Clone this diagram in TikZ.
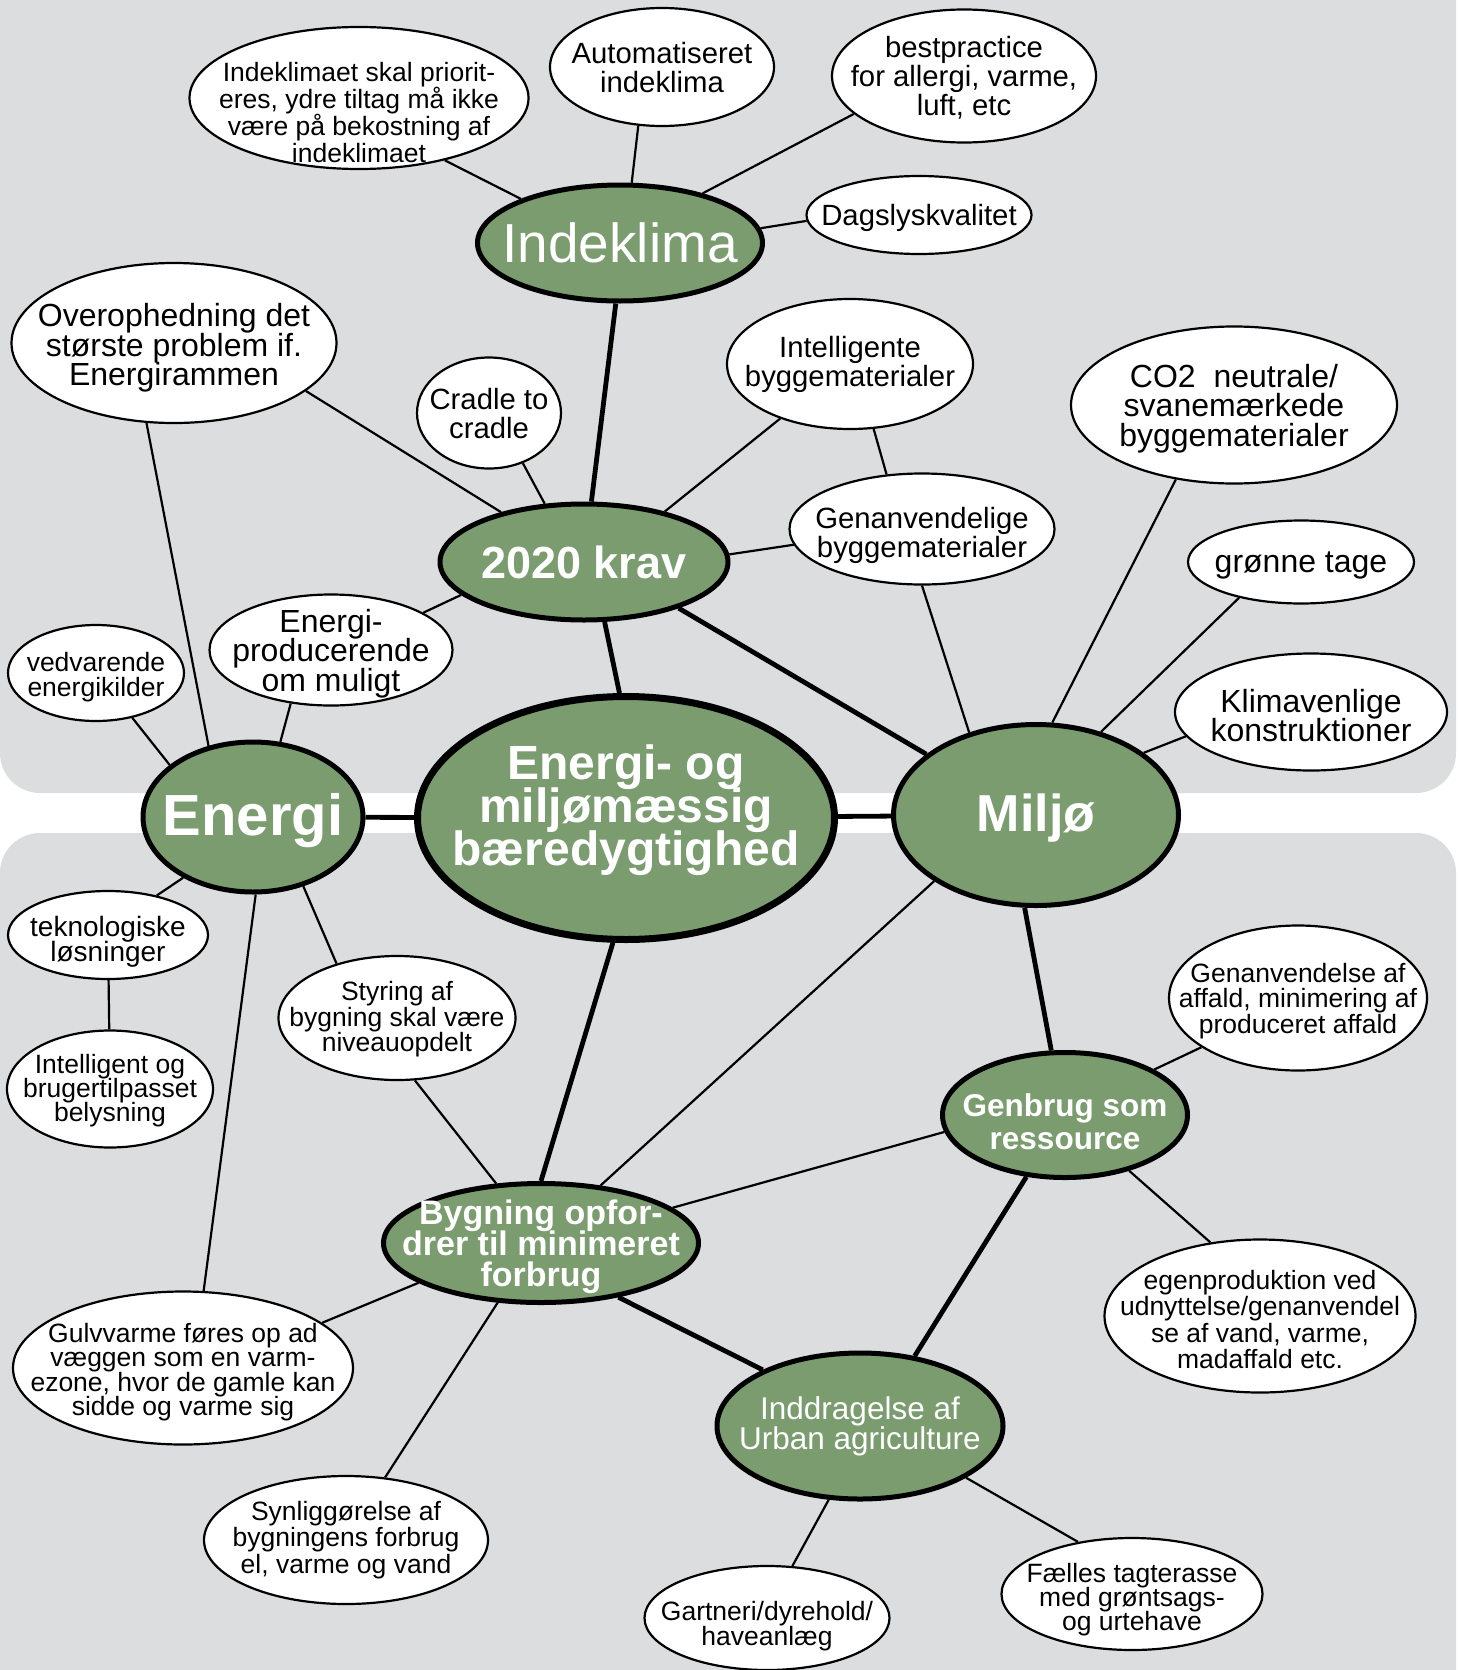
\documentclass[tikz,border=0pt]{standalone}
\usepackage{fontspec}
\setmainfont{Liberation Sans}
\usetikzlibrary{shapes,positioning}

\definecolor{panelgray}{HTML}{DCDDDF}
\definecolor{hubgreen}{HTML}{7A9C6F}
\newcommand{\tightlines}{\lineskiplimit=-100pt\relax}
\newcommand{\lift}[1]{\rule{0pt}{#1pt}}

\begin{document}
\tightlines
\begin{tikzpicture}[x=1pt, y=-1pt,
    leaf/.style={ellipse, draw, fill=white, line width=2.2pt, inner sep=-200pt, align=center},
    hub/.style={ellipse, draw, fill=hubgreen, line width=5pt, inner sep=-200pt, align=center, text=white},
    fS/.style={font=\fontsize{26.5}{#1}\selectfont},
    fS/.default=25.5,
    fM/.style={font=\fontsize{29.3}{#1}\selectfont},
    fM/.default=29,
    fL/.style={font=\fontsize{32}{29.5}\selectfont},
    twig/.style={line width=2.2pt},
    trunk/.style={line width=4.8pt}]
    \useasboundingbox (0,0) rectangle (1459,1670);
    % Panels
    \fill[white] (0,0) rectangle (1459,1670);
    \fill[panelgray, rounded corners=40] (0,-60) rectangle (1456,793);
    \fill[panelgray, rounded corners=40] (0,833) rectangle (1456,1730);

    % Hubs
    \node (ind) [hub, minimum width=285, minimum height=116, font=\fontsize{55}{55}\selectfont] at (620,243) {Indeklima};
    \node (krav) [hub, minimum width=288, minimum height=116, font=\fontsize{45}{45}\selectfont\bfseries] at (584,562) {2020 krav};
    \node (ene) [hub, minimum width=220, minimum height=150, text depth=5.6pt, font=\fontsize{58}{58}\selectfont\bfseries] at (253,817) {Energi};
    \node (mid) [hub, line width=7pt, minimum width=417, minimum height=243, text depth=25pt, font=\fontsize{48}{43}\selectfont\bfseries] at (626,818) {Energi- og\\miljømæssig\\bæredygtighed};
    \node (mil) [hub, minimum width=285, minimum height=181, text depth=4.6pt, font=\fontsize{52}{52}\selectfont\bfseries] at (1036,815) {Miljø};
    \node (gbr) [hub, minimum width=245, minimum height=125, text depth=0pt, font=\fontsize{31.5}{33}\selectfont\bfseries] at (1065,1115) {\lift{36}Genbrug som\\ressource};
    \node (byg) [hub, minimum width=315, minimum height=119, text depth=0pt, font=\fontsize{34}{31}\selectfont\bfseries] at (541,1243) {Bygning opfor-\\drer til minimeret\\forbrug};
    \node (urb) [hub, minimum width=286, minimum height=146, font=\fontsize{31.5}{30}\selectfont] at (860,1426) {Inddragelse af\\Urban agriculture};

    % Top panel
    \node (pri) [leaf, fS=27, minimum width=339, minimum height=142, text depth=0pt] at (359,98) {\lift{48}Indeklimaet skal priorit-\\eres, ydre tiltag må ikke\\være på bekostning af\\indeklimaet};
    \node (aut) [leaf, fM, minimum width=224, minimum height=118, text depth=0pt] at (662,67) {Automatiseret\\indeklima};
    \node (bes) [leaf, fM, minimum width=264, minimum height=133, text depth=0pt] at (964,76) {bestpractice\\for allergi, varme,\\luft, etc};
    \node (dag) [leaf, fM, minimum width=225, minimum height=78, text depth=0pt] at (919,215) {Dagslyskvalitet};
    \node (ove) [leaf, fL, minimum width=325, minimum height=160, text depth=0pt] at (174,343) {\lift{26.5}Overophedning det\\største problem if.\\Energirammen};
    \node (cra) [leaf, fM, minimum width=144, minimum height=111, text depth=0pt] at (489,413) {Cradle to\\cradle};
    \node (intm) [leaf, fM, minimum width=246, minimum height=130] at (850,364) {Intelligente\\byggematerialer};
    \node (co2) [leaf, fL, minimum width=326, minimum height=157, text depth=0pt] at (1234,405) {CO2~ neutrale/\\svanemærkede\\byggematerialer};
    \node (gen) [leaf, fM, minimum width=265, minimum height=111, text depth=0pt] at (922,529) {\lift{28}Genanvendelige\\byggematerialer};
    \node (gro) [leaf, fL, minimum width=226, minimum height=83, text depth=0pt] at (1301,562) {grønne tage};
    \node (epr) [leaf, fL, minimum width=243, minimum height=111, text depth=0pt] at (331,650) {Energi-\\producerende\\om muligt};
    \node (ved) [leaf, fS, minimum width=176, minimum height=96, text depth=0pt] at (96,673) {\lift{22}vedvarende\\energikilder};
    \node (kli) [leaf, fL, minimum width=272, minimum height=117, text depth=0pt] at (1311,712) {\lift{30}Klimavenlige\\konstruktioner};

    % Bottom panel
    \node (tek) [leaf, font=\fontsize{28}{24.5}\selectfont, minimum width=200, minimum height=88, text depth=0pt] at (108,935) {\lift{28}teknologiske\\løsninger};
    \node (sty) [leaf, fS, minimum width=237, minimum height=124, text depth=2.5pt] at (397,1018) {Styring af\\bygning skal være\\niveauopdelt};
    \node (lys) [leaf, fS=24, minimum width=206, minimum height=117, text depth=1.5pt] at (110,1089) {Intelligent og\\brugertilpasset\\belysning};
    \node (aff) [leaf, fS, minimum width=258, minimum height=145, text depth=0pt] at (1298,998) {Genanvendelse af\\affald, minimering af\\produceret affald};
    \node (gul) [leaf, fS=24.5, minimum width=340, minimum height=153, text depth=0pt] at (183,1368) {\lift{22}Gulvvarme føres op ad\\væggen som en varm-\\ezone, hvor de gamle kan\\sidde og varme sig};
    \node (egp) [leaf, fS=26.5, minimum width=311, minimum height=153, text depth=0pt] at (1260,1316) {\lift{26}egenproduktion ved\\udnyttelse/genanvendel\\se af vand, varme,\\madaffald etc.};
    \node (syn) [leaf, fS=26.5, minimum width=284, minimum height=128] at (346,1540) {Synliggørelse af\\bygningens forbrug\\el, varme og vand};
    \node (gar) [leaf, fS=24.5, minimum width=245, minimum height=104, text depth=0pt] at (767,1618) {\lift{30}Gartneri/dyrehold/\\haveanlæg};
    \node (fael) [leaf, fS=24, minimum width=261, minimum height=112, text depth=0pt] at (1132,1594) {\lift{25}Fælles tagterasse\\med grøntsags-\\og urtehave};

    % Main links
    \draw [trunk] (ind.266) -- (krav.83);
    \draw [trunk] (krav.289) -- (mid.93);
    \draw [trunk] (krav.334) -- (mil.151);
    \draw [trunk] (ene) -- (mid);
    \draw [trunk] (mid) -- (mil);
    \draw [trunk] (mid.264) -- (byg.90);
    \draw [trunk] (mil.263) -- (gbr.102);
    \draw [trunk] (gbr.238) -- (urb.52);
    \draw [trunk] (byg.325) -- (urb.150);

    % Side links
    \draw [twig] (ind.156) -- (pri.324);
    \draw [twig] (ind.79) -- (aut.248);
    \draw [twig] (ind.31) -- (bes.199);
    \draw [twig] (ind.6) -- (dag.183);
    \draw [twig] (krav.149) -- (ove.340);
    \draw [twig] (krav.124) -- (cra.304);
    \draw [twig] (krav.32) -- (intm.218);
    \draw [twig] (krav.3) -- (gen.187);
    \draw [twig] (krav.195) -- (epr.22);
    \draw [twig] (intm.290) -- (gen.123);
    \draw [twig] (gen.270) -- (mil.129);
    \draw [twig] (co2.232) -- (mil.80);
    \draw [twig] (gro.210) -- (mil.52);
    \draw [twig] (kli.191) -- (mil.30);
    \draw [twig] (ene.122) -- (ove.251);
    \draw [twig] (ene.70) -- (epr.233);
    \draw [twig] (ene.148) -- (ved.309);
    \draw [twig] (ene.221) -- (tek.39);
    \draw [twig] (tek) -- (lys);
    \draw [twig] (ene.306) -- (sty.138);
    \draw [twig] (ene.272) -- (gul.75);
    \draw [twig] (sty.286) -- (byg.127);
    \draw [twig] (mil.213) -- (byg.44);
    \draw [twig] (gbr.188) -- (byg.15);
    \draw [twig] (gbr.27) -- (aff.207);
    \draw [twig] (gbr.319) -- (egp.124);
    \draw [twig] (byg.198) -- (gul.18);
    \draw [twig] (byg.234) -- (syn.58);
    \draw [twig] (urb.247) -- (gar.64);
    \draw [twig] (urb.334) -- (fael.136);
\end{tikzpicture}
\end{document}
